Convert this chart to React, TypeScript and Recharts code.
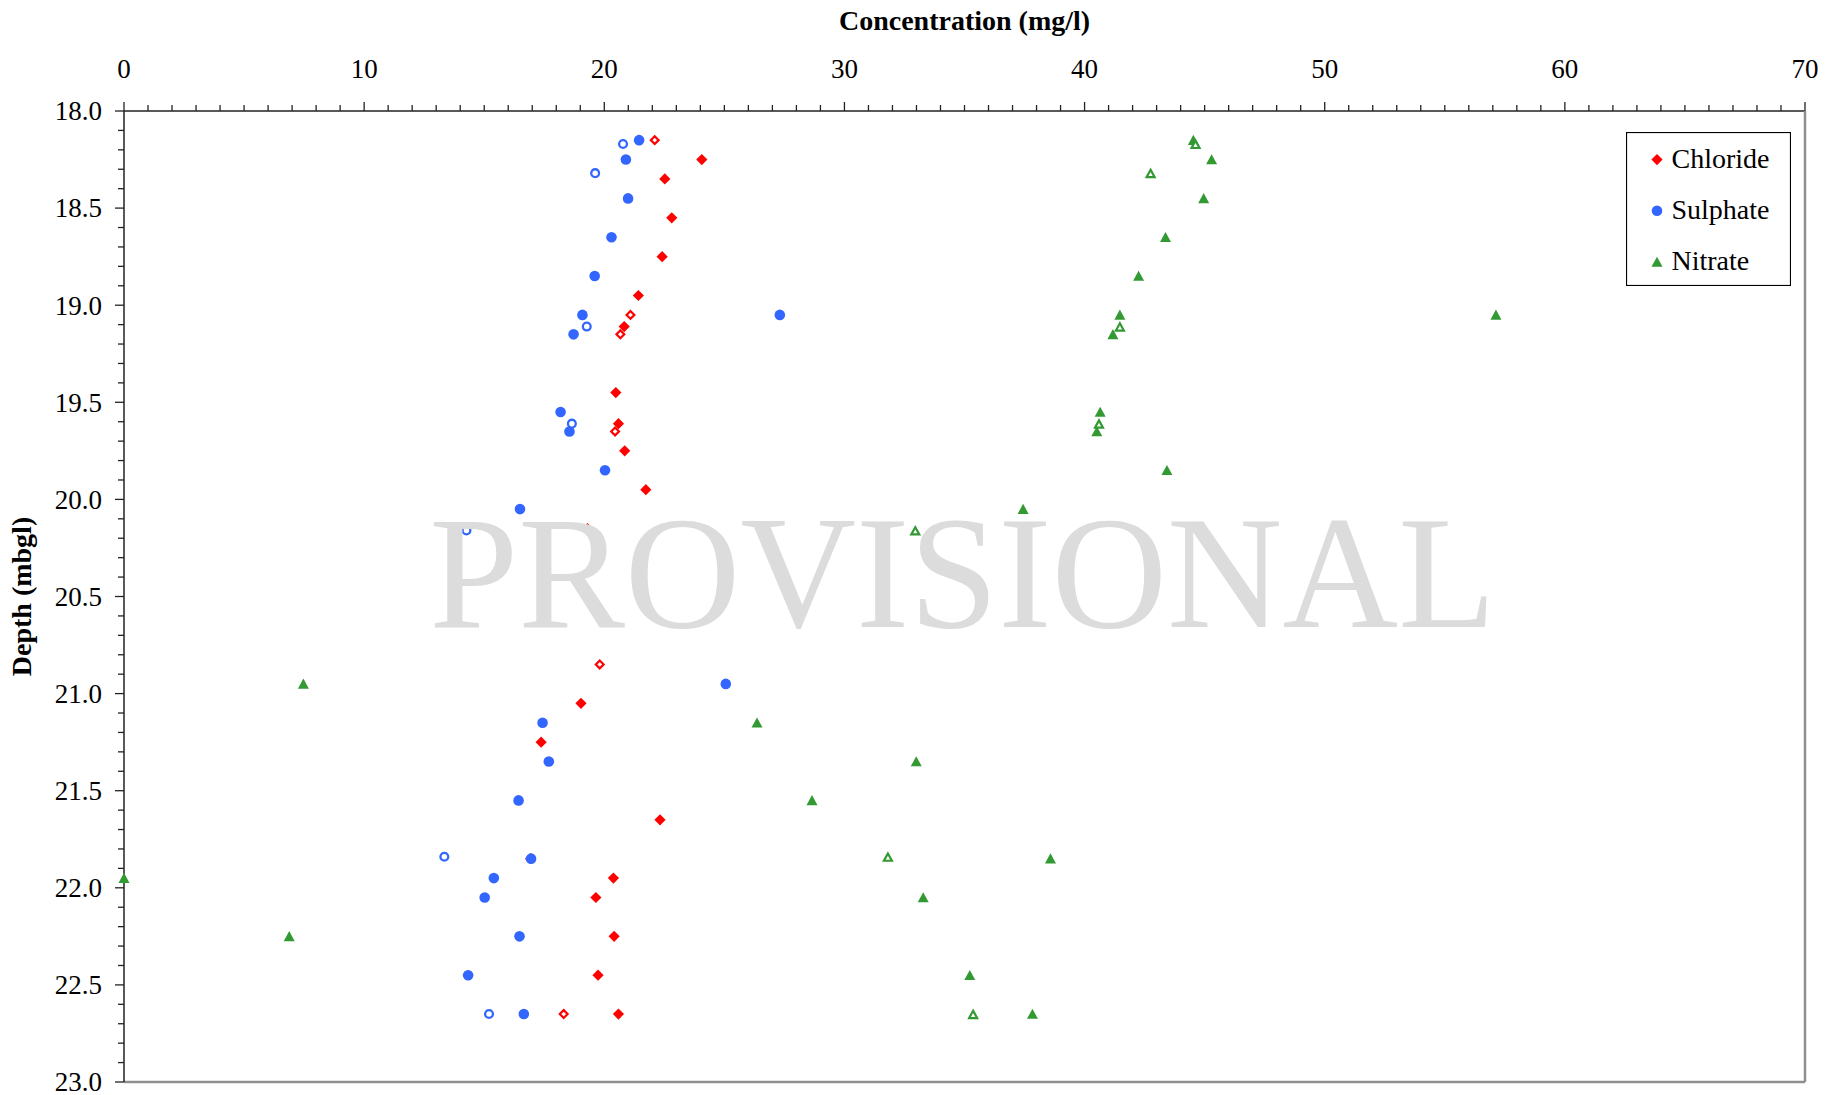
import React from 'react';
import { ScatterChart, Scatter, XAxis, YAxis, Legend } from 'recharts';

// ---------- data (concentration mg/l, depth mbgl) ----------
const CHLORIDE_CONC = [24.06, 22.52, 22.81, 22.41, 21.42, 20.83, 20.48, 20.59, 20.85, 21.73, 19.3, 19.03, 17.37, 22.32, 16.93, 20.38, 19.65, 20.41, 19.74, 20.59];
const CHLORIDE_DEPTH = [18.25, 18.35, 18.55, 18.75, 18.95, 19.11, 19.45, 19.61, 19.75, 19.95, 20.15, 21.05, 21.25, 21.65, 21.85, 21.95, 22.05, 22.25, 22.45, 22.65];
const CHLORIDE_DUP_CONC = [22.1, 21.09, 20.67, 20.45, 19.81, 18.31];
const CHLORIDE_DUP_DEPTH = [18.15, 19.05, 19.15, 19.65, 20.85, 22.65];

const SULPHATE_CONC = [21.45, 20.9, 20.99, 20.3, 19.6, 19.09, 27.31, 18.72, 18.18, 18.55, 20.03, 16.49, 25.06, 17.43, 17.69, 16.43, 16.95, 15.4, 15.02, 16.47, 14.33, 16.65];
const SULPHATE_DEPTH = [18.15, 18.25, 18.45, 18.65, 18.85, 19.05, 19.05, 19.15, 19.55, 19.65, 19.85, 20.05, 20.95, 21.15, 21.35, 21.55, 21.85, 21.95, 22.05, 22.25, 22.45, 22.65];
const SULPHATE_DUP_CONC = [20.78, 19.62, 19.27, 18.65, 14.26, 13.34, 15.2];
const SULPHATE_DUP_DEPTH = [18.17, 18.32, 19.11, 19.61, 20.16, 21.84, 22.65];

const NITRATE_CONC = [44.53, 45.29, 44.96, 43.37, 42.25, 41.47, 57.13, 41.18, 40.65, 40.51, 43.43, 37.44, 7.47, 26.36, 32.99, 28.65, 38.58, 0, 33.28, 6.88, 35.22, 37.83];
const NITRATE_DEPTH = [18.15, 18.25, 18.45, 18.65, 18.85, 19.05, 19.05, 19.15, 19.55, 19.65, 19.85, 20.05, 20.95, 21.15, 21.35, 21.55, 21.85, 21.95, 22.05, 22.25, 22.45, 22.65];
const NITRATE_DUP_CONC = [44.62, 42.75, 41.47, 40.6, 32.95, 31.81, 35.36];
const NITRATE_DUP_DEPTH = [18.17, 18.32, 19.11, 19.61, 20.16, 21.84, 22.65];

const SERIES_NAMES = ['Chloride', 'Sulphate', 'Nitrate'];
const X_TITLE = 'Concentration (mg/l)';
const Y_TITLE = 'Depth (mbgl)';
const WATERMARK = 'PROVISIONAL';

const X_MAJOR_TICKS = [0, 10, 20, 30, 40, 50, 60, 70];
const Y_MAJOR_TICKS = [18.0, 18.5, 19.0, 19.5, 20.0, 20.5, 21.0, 21.5, 22.0, 22.5, 23.0];
const X_TICKS = Array.from({ length: 71 }, (_, i) => i);
const Y_TICKS = Array.from({ length: 51 }, (_, i) => (180 + i) / 10);

// ---------- styles ----------
const FONT = '"Liberation Serif", "Times New Roman", Times, serif';
const RED = '#ff0000';
const BLUE = '#3366ff';
const GREEN = '#339933';
const COLORS: Record<string, string> = { Chloride: RED, Sulphate: BLUE, Nitrate: GREEN };
const KINDS: Record<string, string> = { Chloride: 'diamond', Sulphate: 'circle', Nitrate: 'triangle' };

const W = 1838;
const H = 1095;
const MARGIN = { top: 0, right: 32, bottom: 12, left: 0 };
const Y_AXIS_W = 124;
const X_AXIS_H = 111;

const toRows = (xs: number[], ys: number[]) => xs.map((x, i) => ({ x, y: ys[i] }));

// ---------- marker shapes ----------
const diamondPath = (cx: number, cy: number, r: number) =>
  `M${cx},${cy - r}L${cx + r},${cy}L${cx},${cy + r}L${cx - r},${cy}Z`;
const trianglePath = (cx: number, cy: number, w: number, h: number) =>
  `M${cx},${cy - h / 2 - 0.5}L${cx + w / 2},${cy + h / 2}L${cx - w / 2},${cy + h / 2}Z`;

const Marker = ({ kind, cx, cy, hollow, color }: any) => {
  if (kind === 'diamond') {
    return hollow ? (
      <path d={diamondPath(cx, cy, 3.9)} fill="#fff" stroke={color} strokeWidth={2.2} />
    ) : (
      <path d={diamondPath(cx, cy, 5.6)} fill={color} />
    );
  }
  if (kind === 'circle') {
    return hollow ? (
      <circle cx={cx} cy={cy} r={3.9} fill="#fff" stroke={color} strokeWidth={2.3} />
    ) : (
      <circle cx={cx} cy={cy} r={5.3} fill={color} />
    );
  }
  return hollow ? (
    <path d={trianglePath(cx, cy + 0.6, 8, 6.8)} fill="#fff" stroke={color} strokeWidth={2.2} />
  ) : (
    <path d={trianglePath(cx, cy, 11, 9.6)} fill={color} />
  );
};

const makeShape = (kind: string, color: string, hollow: boolean) => (p: any) =>
  <Marker kind={kind} cx={p.cx} cy={p.cy} hollow={hollow} color={color} />;

// ---------- axes ----------
const textStyle = (size: number, bold = false): React.CSSProperties => ({
  fontFamily: FONT,
  fontSize: size,
  fontWeight: bold ? 'bold' : 'normal',
  fill: '#000',
});

const XTick = (props: any) => {
  const { x, y, payload } = props;
  const v = payload.value;
  const major = X_MAJOR_TICKS.includes(v);
  return (
    <g>
      <line x1={x} x2={x} y1={y} y2={y - (major ? 9 : 6)} stroke="#222" strokeWidth={1.3} />
      {major && (
        <text x={x} y={y - 33} textAnchor="middle" style={textStyle(27)}>
          {v}
        </text>
      )}
    </g>
  );
};

const YTick = (props: any) => {
  const { x, y, payload } = props;
  const v = payload.value;
  const major = Y_MAJOR_TICKS.some((m) => Math.abs(m - v) < 1e-6);
  return (
    <g>
      <line x1={x} x2={x - (major ? 9 : 6)} y1={y} y2={y} stroke="#222" strokeWidth={1.3} />
      {major && (
        <text x={x - 22} y={y} dy={9.3} textAnchor="end" style={textStyle(27)}>
          {v.toFixed(1)}
        </text>
      )}
    </g>
  );
};

const XTitle = (props: any) => {
  const vb = props.viewBox || {};
  return (
    <text x={vb.x + vb.width / 2} y={vb.y + 30} textAnchor="middle" style={textStyle(28, true)}>
      {X_TITLE}
    </text>
  );
};

const YTitle = (props: any) => {
  const vb = props.viewBox || {};
  const cx = vb.x + 31;
  const cy = vb.y + vb.height / 2;
  return (
    <text x={0} y={0} transform={`translate(${cx},${cy}) rotate(-90)`} textAnchor="middle" style={textStyle(28, true)}>
      {Y_TITLE}
    </text>
  );
};

// ---------- legend ----------
const LegendBox = (props: any) => {
  const items = (props.payload || [])
    .filter((e: any) => SERIES_NAMES.includes(e.value))
    .sort((a: any, b: any) => SERIES_NAMES.indexOf(a.value) - SERIES_NAMES.indexOf(b.value));
  return (
    <svg width={165} height={154} style={{ display: 'block' }}>
      <rect x={0.5} y={0.5} width={164} height={153} fill="#fff" stroke="#000" strokeWidth={1.2} />
      {items.map((e: any, i: number) => {
        const base = 36 + i * 51.2;
        return (
          <g key={e.value}>
            <Marker kind={KINDS[e.value]} cx={31} cy={base - 8.4} hollow={false} color={COLORS[e.value]} />
            <text x={45.5} y={base} style={textStyle(28)}>
              {e.value}
            </text>
          </g>
        );
      })}
    </svg>
  );
};

export default function App() {
  const plotLeft = MARGIN.left + Y_AXIS_W;
  const plotRight = W - MARGIN.right - 1;
  const wmX = (plotLeft + plotRight) / 2 - 2;
  return (
    <div style={{ position: 'relative', width: W, height: H, overflow: 'hidden' }}>
      <style>{'html,body{margin:0;padding:0;overflow:hidden;}'}</style>
      <ScatterChart width={W} height={H} margin={MARGIN}>
        <XAxis
          xAxisId="top"
          type="number"
          dataKey="x"
          orientation="top"
          domain={[0, 70]}
          ticks={X_TICKS}
          interval={0}
          height={X_AXIS_H}
          tickSize={0}
          tickMargin={0}
          tickLine={false}
          tick={XTick}
          axisLine={{ stroke: '#222', strokeWidth: 1.5 }}
          label={{ content: XTitle }}
        />
        <XAxis
          xAxisId="bottom"
          type="number"
          orientation="bottom"
          domain={[0, 70]}
          ticks={[0, 70]}
          height={1}
          tick={false}
          tickLine={false}
          axisLine={{ stroke: '#8f8f8f', strokeWidth: 2.5 }}
        />
        <YAxis
          yAxisId="left"
          type="number"
          dataKey="y"
          domain={[18, 23]}
          reversed
          ticks={Y_TICKS}
          interval={0}
          width={Y_AXIS_W}
          tickSize={0}
          tickMargin={0}
          tickLine={false}
          tick={YTick}
          axisLine={{ stroke: '#222', strokeWidth: 1.5 }}
          label={{ content: YTitle }}
        />
        <YAxis
          yAxisId="right"
          type="number"
          orientation="right"
          domain={[18, 23]}
          reversed
          ticks={[18, 23]}
          width={1}
          tick={false}
          tickLine={false}
          axisLine={{ stroke: '#8f8f8f', strokeWidth: 2.5 }}
        />
        <Legend
          layout="vertical"
          align="center"
          verticalAlign="middle"
          content={LegendBox}
          wrapperStyle={{ left: 1626, top: 132, width: 165, height: 154 }}
        />
        <Scatter name="Chloride" xAxisId="top" yAxisId="left" data={toRows(CHLORIDE_CONC, CHLORIDE_DEPTH)} fill={RED} shape={makeShape('diamond', RED, false)} isAnimationActive={false} />
        <Scatter name="Chloride (dup)" legendType="none" xAxisId="top" yAxisId="left" data={toRows(CHLORIDE_DUP_CONC, CHLORIDE_DUP_DEPTH)} fill={RED} shape={makeShape('diamond', RED, true)} isAnimationActive={false} />
        <Scatter name="Sulphate" xAxisId="top" yAxisId="left" data={toRows(SULPHATE_CONC, SULPHATE_DEPTH)} fill={BLUE} shape={makeShape('circle', BLUE, false)} isAnimationActive={false} />
        <Scatter name="Sulphate (dup)" legendType="none" xAxisId="top" yAxisId="left" data={toRows(SULPHATE_DUP_CONC, SULPHATE_DUP_DEPTH)} fill={BLUE} shape={makeShape('circle', BLUE, true)} isAnimationActive={false} />
        <Scatter name="Nitrate" xAxisId="top" yAxisId="left" data={toRows(NITRATE_CONC, NITRATE_DEPTH)} fill={GREEN} shape={makeShape('triangle', GREEN, false)} isAnimationActive={false} />
        <Scatter name="Nitrate (dup)" legendType="none" xAxisId="top" yAxisId="left" data={toRows(NITRATE_DUP_CONC, NITRATE_DUP_DEPTH)} fill={GREEN} shape={makeShape('triangle', GREEN, true)} isAnimationActive={false} />
      </ScatterChart>
      <svg width={W} height={H} style={{ position: 'absolute', left: 0, top: 0, pointerEvents: 'none' }}>
        <text x={wmX} y={627} textAnchor="middle" style={{ fontFamily: FONT, fontSize: 160, fill: '#dcdcdc' }}>
          {WATERMARK}
        </text>
      </svg>
    </div>
  );
}
